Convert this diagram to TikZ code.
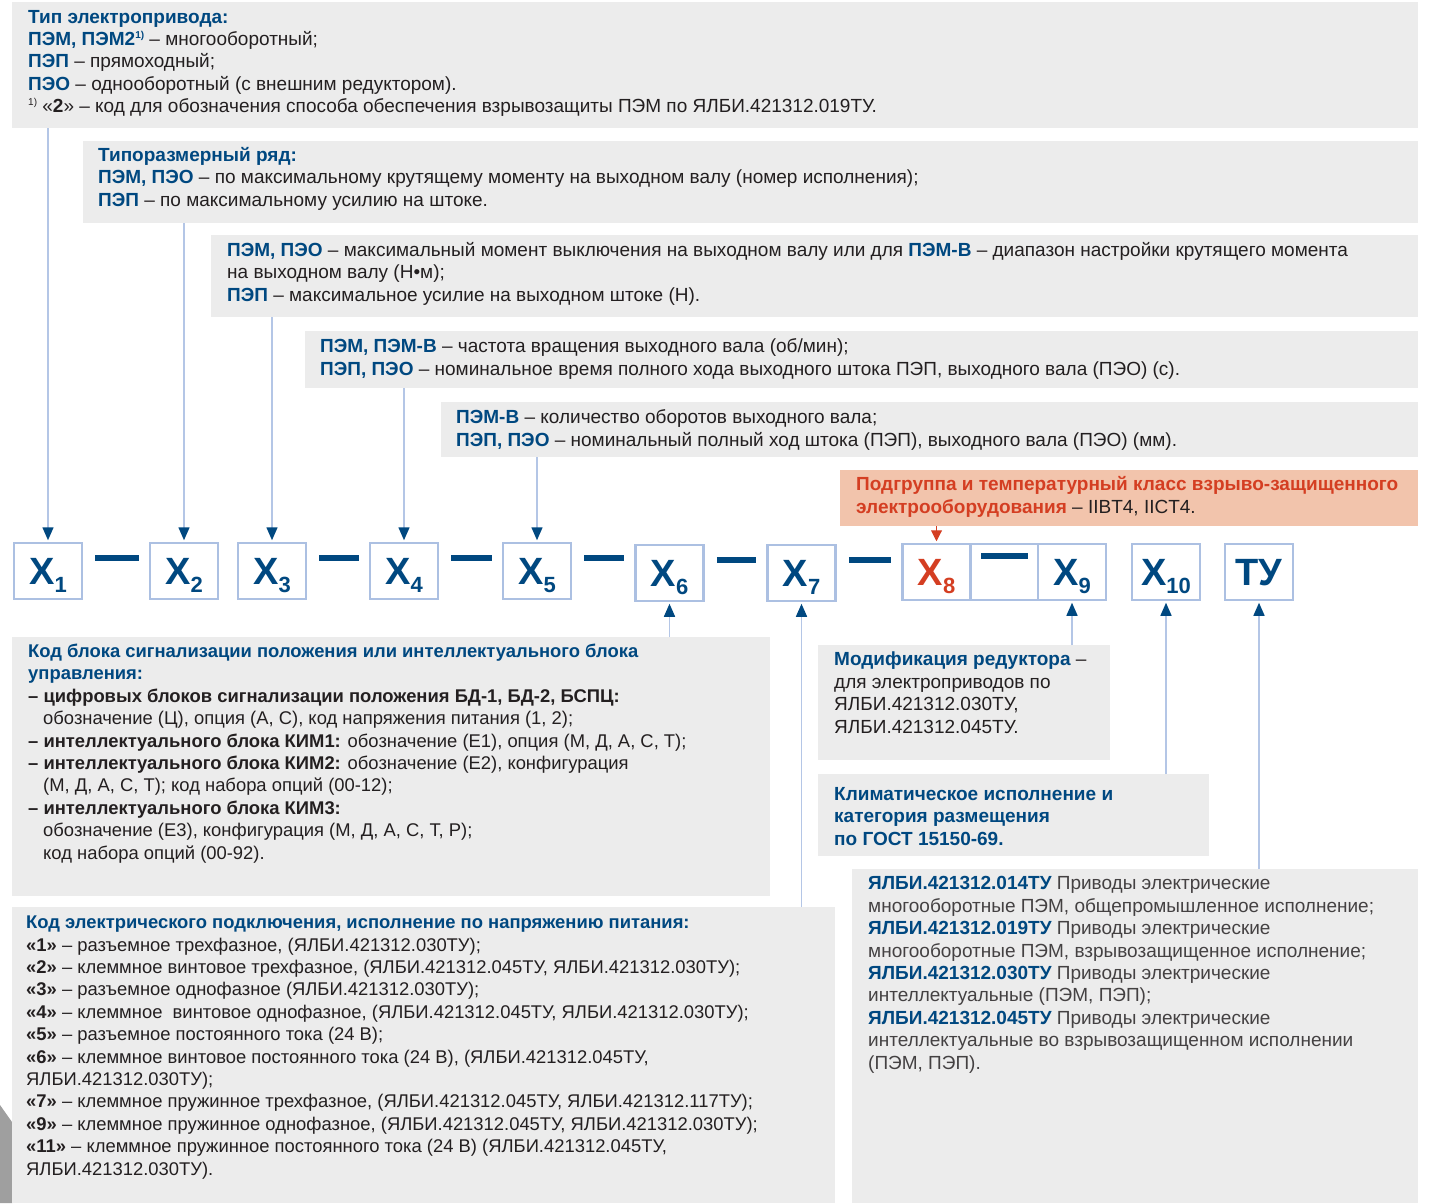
\documentclass[tikz,border=0pt]{standalone}
\usepackage{fontspec}
\setmainfont{Liberation Sans}
\usetikzlibrary{arrows.meta}
\usetikzlibrary{positioning}

\definecolor{panel}{RGB}{236,236,236}
\definecolor{navy}{RGB}{0,72,128}
\definecolor{ink}{RGB}{35,31,32}
\definecolor{wire}{RGB}{180,198,230}
\definecolor{rim}{RGB}{172,192,226}
\definecolor{salmon}{RGB}{242,196,172}
\definecolor{brick}{RGB}{212,62,34}

\newcommand{\hd}[1]{\textbf{\color{navy}#1}}
\newcommand{\nm}[1]{\textbf{#1}}
\newcommand{\ind}{\hspace*{15pt}}
\newcommand{\fn}{\raisebox{7pt}{\fontsize{10}{10}\selectfont 1)}}

% base anchor of a multi-line note = baseline of its last line
\tikzset{
  panelbox/.style={fill=panel, draw=none, anchor=north west, inner sep=0pt},
  note/.style={anchor=base west, align=left, inner sep=0pt, text=ink,
    font=\fontsize{19}{22.4}\selectfont},
  smallnote/.style={note, font=\fontsize{18.4}{22.4}\selectfont},
  cell/.style={draw=rim, line width=2.5pt, minimum width=68pt, minimum height=56pt,
    inner sep=0pt, text=navy, font=\bfseries\fontsize{38}{38}\selectfont,
    text height=27pt, text depth=0pt},
  feed/.style={draw=wire, line width=1.5pt, -{Triangle[color=navy, width=11pt, length=13pt]},
    shorten >=1.5pt},
  joiner/.style={draw=navy, line width=6pt},
}

\newcommand{\ix}[2]{#1\raisebox{-8pt}{\fontsize{22}{22}\selectfont #2}}

\begin{document}
\begin{tikzpicture}[x=1pt, y=-1pt]
  \useasboundingbox (0,0) rectangle (1429,1203);

  % background wedge
  \fill[gray!75] (0,1105) -- (12,1122) -- (12,1203) -- (0,1203) -- cycle;

  % panels above the code
  \node[panelbox, minimum width=1406pt, minimum height=126pt] (p1) at (12,2) {};
  \node[panelbox, minimum width=1335pt, minimum height=82pt] (p2) at (83,141) {};
  \node[panelbox, minimum width=1207pt, minimum height=82pt] (p3) at (211,235) {};
  \node[panelbox, minimum width=1113pt, minimum height=57pt] (p4) at (305,331) {};
  \node[panelbox, minimum width=977pt, minimum height=55pt] (p5) at (441,402) {};
  \node[panelbox, fill=salmon, minimum width=578pt, minimum height=56pt] (po) at (840,470) {};

  \node[note] (t1) at (28,112.6) {\hd{Тип электропривода:}\\
    \hd{ПЭМ, ПЭМ2\fn} – многооборотный;\\
    \hd{ПЭП} – прямоходный;\\
    \hd{ПЭО} – однооборотный (с внешним редуктором).\\
    \fn\ «\nm{2}» – код для обозначения способа обеспечения взрывозащиты ПЭМ по ЯЛБИ.421312.019ТУ.};
  \node[note] (t2) at (98,206) {\hd{Типоразмерный ряд:}\\
    \hd{ПЭМ, ПЭО} – по максимальному крутящему моменту на выходном валу (номер исполнения);\\
    \hd{ПЭП} – по максимальному усилию на штоке.};
  \node[note] (t3) at (227,301) {\hd{ПЭМ, ПЭО} – максимальный момент выключения на выходном валу или для \hd{ПЭМ-В} – диапазон настройки крутящего момента\\
    на выходном валу (Н•м);\\
    \hd{ПЭП} – максимальное усилие на выходном штоке (Н).};
  \node[note] (t4) at (320,375) {\hd{ПЭМ, ПЭМ-В} – частота вращения выходного вала (об/мин);\\
    \hd{ПЭП, ПЭО} – номинальное время полного хода выходного штока ПЭП, выходного вала (ПЭО) (с).};
  \node[note] (t5) at (456,446) {\hd{ПЭМ-В} – количество оборотов выходного вала;\\
    \hd{ПЭП, ПЭО} – номинальный полный ход штока (ПЭП), выходного вала (ПЭО) (мм).};
  \node[note] (to) at (856,513) {\textbf{\color{brick}Подгруппа и температурный класс взрыво-защищенного}\\
    \textbf{\color{brick}электрооборудования} – IIBT4, IICT4.};

  % the code itself
  \node[cell] (x1) at (48,571) {\ix{X}{1}};
  \node[cell] (x2) at (184,571) {\ix{X}{2}};
  \node[cell] (x3) at (272,571) {\ix{X}{3}};
  \node[cell] (x4) at (404,571) {\ix{X}{4}};
  \node[cell] (x5) at (537,571) {\ix{X}{5}};
  \node[cell] (x6) at (669.5,573) {\ix{X}{6}};
  \node[cell] (x7) at (801.5,573) {\ix{X}{7}};
  \node[cell, text=brick] (x8) at (936.5,572) {\ix{X}{8}};
  \node[cell] (x8x9) at (1004,572) {};
  \node[cell] (x9) at (1072,572) {\ix{X}{9}};
  \node[cell] (x10) at (1166,572) {\ix{X}{10}};
  \node[cell] (tu) at (1259,572) {ТУ};

  \foreach \a/\b in {x1/x2, x3/x4, x4/x5, x5/x6, x6/x7, x7/x8} {
    \path ([shift={(12pt,13pt)}]\a.east) coordinate (ja);
    \draw[joiner, shorten >=10pt] (ja) -- (ja -| \b.west);
  }
  \draw[joiner] ([shift={(-23pt,16pt)}]x8x9.center) -- ([shift={(24pt,16pt)}]x8x9.center);

  % arrows from above
  \draw[feed] (p1.south -| x1) -- (x1.north);
  \draw[feed] (p2.south -| x2) -- (x2.north);
  \draw[feed] (p3.south -| x3) -- (x3.north);
  \draw[feed] (p4.south -| x4) -- (x4.north);
  \draw[feed] (p5.south -| x5) -- (x5.north);
  \draw[draw=brick, line width=1pt, -{Triangle[color=brick, width=11pt, length=11pt]}, shorten >=1.5pt]
    (po.south -| x8) -- (x8.north);

  % panels below the code
  \node[panelbox, minimum width=758pt, minimum height=259pt] (pk) at (12,637) {};
  \node[panelbox, minimum width=292pt, minimum height=115pt] (pm) at (818,645) {};
  \node[panelbox, minimum width=391pt, minimum height=82pt] (pc) at (818,774) {};
  \node[panelbox, minimum width=566pt, minimum height=334pt] (pr) at (852,869) {};
  \node[panelbox, minimum width=823pt, minimum height=296pt] (pe) at (12,907) {};

  \node[smallnote] (tk) at (28,859) {\hd{Код блока сигнализации положения или интеллектуального блока}\\
    \hd{управления:}\\
    \nm{– цифровых блоков сигнализации положения БД-1, БД-2, БСПЦ:}\\
    \ind обозначение (Ц), опция (А, С), код напряжения питания (1, 2);\\
    \nm{– интеллектуального блока КИМ1:} обозначение (Е1), опция (М, Д, А, С, Т);\\
    \nm{– интеллектуального блока КИМ2:} обозначение (Е2), конфигурация\\
    \ind (М, Д, А, С, Т); код набора опций (00-12);\\
    \nm{– интеллектуального блока КИМ3:}\\
    \ind обозначение (Е3), конфигурация (М, Д, А, С, Т, Р);\\
    \ind код набора опций (00-92).};
  \node[note] (tm) at (834,733) {\hd{Модификация редуктора} –\\
    для электроприводов по\\
    ЯЛБИ.421312.030ТУ,\\
    ЯЛБИ.421312.045ТУ.};
  \node[note] (tc) at (834,845) {\hd{Климатическое исполнение и}\\
    \hd{категория размещения}\\
    \hd{по ГОСТ 15150-69.}};
  \node[note, text=ink!85] (tr) at (868,1069) {\hd{ЯЛБИ.421312.014ТУ} Приводы электрические\\
    многооборотные ПЭМ, общепромышленное исполнение;\\
    \hd{ЯЛБИ.421312.019ТУ} Приводы электрические\\
    многооборотные ПЭМ, взрывозащищенное исполнение;\\
    \hd{ЯЛБИ.421312.030ТУ} Приводы электрические\\
    интеллектуальные (ПЭМ, ПЭП);\\
    \hd{ЯЛБИ.421312.045ТУ} Приводы электрические\\
    интеллектуальные во взрывозащищенном исполнении\\
    (ПЭМ, ПЭП).};
  \node[smallnote] (te) at (26,1175) {\hd{Код электрического подключения, исполнение по напряжению питания:}\\
    \nm{«1»} – разъемное трехфазное, (ЯЛБИ.421312.030ТУ);\\
    \nm{«2»} – клеммное винтовое трехфазное, (ЯЛБИ.421312.045ТУ, ЯЛБИ.421312.030ТУ);\\
    \nm{«3»} – разъемное однофазное (ЯЛБИ.421312.030ТУ);\\
    \nm{«4»} – клеммное\ \ винтовое однофазное, (ЯЛБИ.421312.045ТУ, ЯЛБИ.421312.030ТУ);\\
    \nm{«5»} – разъемное постоянного тока (24 В);\\
    \nm{«6»} – клеммное винтовое постоянного тока (24 В), (ЯЛБИ.421312.045ТУ,\\
    ЯЛБИ.421312.030ТУ);\\
    \nm{«7»} – клеммное пружинное трехфазное, (ЯЛБИ.421312.045ТУ, ЯЛБИ.421312.117ТУ);\\
    \nm{«9»} – клеммное пружинное однофазное, (ЯЛБИ.421312.045ТУ, ЯЛБИ.421312.030ТУ);\\
    \nm{«11»} – клеммное пружинное постоянного тока (24 В) (ЯЛБИ.421312.045ТУ,\\
    ЯЛБИ.421312.030ТУ).};

  % arrows from below
  \draw[feed] (pk.north -| x6) -- (x6.south);
  \draw[feed] (pe.north -| x7) -- (x7.south);
  \draw[feed] (pm.north -| x9) -- (x9.south);
  \draw[feed] (pc.north -| x10) -- (x10.south);
  \draw[feed] (pr.north -| tu) -- (tu.south);
\end{tikzpicture}
\end{document}
